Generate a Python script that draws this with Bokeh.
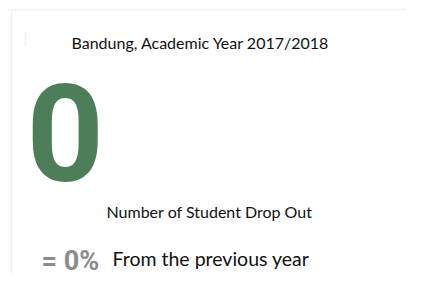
from bokeh.plotting import figure
from bokeh.models import Range1d, ColumnDataSource
from bokeh.core.properties import value
from bokeh.embed import file_html
from bokeh.resources import INLINE

title_text = ["Bandung, Academic Year 2017/2018"]
kpi_value = [0]
kpi_label = ["Number of Student Drop Out"]
change_pct = [0]
change_label = ["From the previous year"]

W, H = 406, 275
p = figure(width=W, height=H, output_backend="svg", toolbar_location=None,
           x_range=Range1d(0, W), y_range=Range1d(H, 0), min_border=0)
p.axis.visible = False
p.grid.visible = False
p.outline_line_color = None
p.background_fill_color = "white"
p.border_fill_color = "white"

# card frame (faint)
p.segment(x0=[11, 11], y0=[9, 9], x1=[11, W], y1=[H, 9], line_color="#f0f0f0", line_width=1.5)
p.segment(x0=[25], y0=[32], x1=[25], y1=[45], line_color="#f0f0f0", line_width=1.5)

p.text(x=[71], y=[42], text=title_text, text_font=value("Lato"), text_font_size="16px",
       text_color="#111111", text_baseline="middle", text_align="left")

p.text(x=[26], y=[132], text=[str(v) for v in kpi_value], text_font=value("Roboto"),
       text_font_style="bold", text_font_size="135px", text_color="#4e7d5a",
       text_baseline="middle", text_align="left")

p.text(x=[106], y=[211], text=kpi_label, text_font=value("Lato"), text_font_size="16px",
       text_color="#111111", text_baseline="middle", text_align="left")

p.text(x=[41], y=[260], text=["= %d%%" % c for c in change_pct], text_font=value("Roboto"),
       text_font_style="bold", text_font_size="27px", text_color="#8c8c8c",
       text_baseline="middle", text_align="left")

p.text(x=[112], y=[258], text=change_label, text_font=value("Lato"), text_font_size="19.5px",
       text_color="#111111", text_baseline="middle", text_align="left")

open("out.html", "w").write(file_html(p, INLINE))
